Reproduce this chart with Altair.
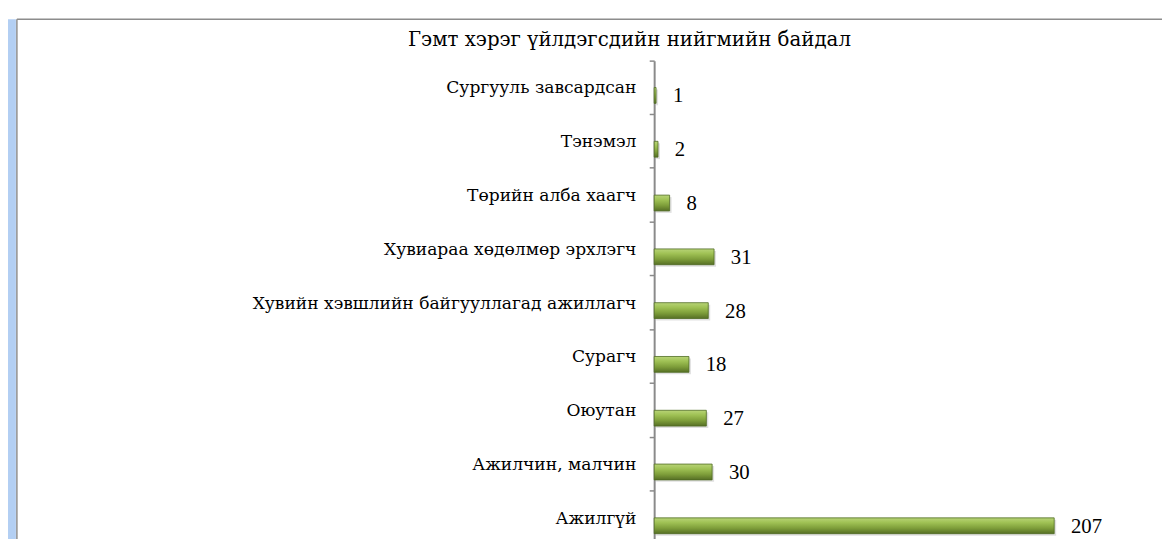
import altair as alt
import pandas as pd

title_text = "Гэмт хэрэг үйлдэгсдийн нийгмийн байдал"
categories = [
    "Сургууль завсардсан",
    "Тэнэмэл",
    "Төрийн алба хаагч",
    "Хувиараа хөдөлмөр эрхлэгч\u00a0",
    "Хувийн хэвшлийн байгууллагад ажиллагч",
    "Сурагч",
    "Оюутан",
    "Ажилчин, малчин",
    "Ажилгүй",
]
values = [1, 2, 8, 31, 28, 18, 27, 30, 207]

df = pd.DataFrame({"cat": categories, "val": values})

W = 489
H = 490
FONT = "DejaVu Serif"
NUMFONT = "Liberation Serif"

x_enc = alt.X("val:Q", scale=alt.Scale(domain=[0, 250], nice=False, zero=True), axis=None)
y_enc = alt.Y(
    "cat:N",
    sort=categories,
    scale=alt.Scale(paddingInner=0, paddingOuter=0),
    axis=alt.Axis(
        labels=False, title=None, bandPosition=0, ticks=True, tickSize=5,
        tickColor="#8a8a8a", tickWidth=1.5, domainColor="#8a8a8a", domainWidth=2, grid=False,
    ),
)

base = alt.Chart(df)

shadow = base.mark_bar(size=16, yOffset=10, xOffset=2, color="#000000", opacity=0.12).encode(
    x=x_enc, y=y_enc
)

bars = base.mark_bar(
    size=16,
    yOffset=8,
    stroke="#4f6a22",
    strokeWidth=0.8,
    color=alt.Gradient(
        gradient="linear",
        x1=0, x2=0, y1=0, y2=1,
        stops=[
            alt.GradientStop(offset=0, color="#b8d477"),
            alt.GradientStop(offset=0.3, color="#9fc154"),
            alt.GradientStop(offset=0.65, color="#7e9e3a"),
            alt.GradientStop(offset=1, color="#566f25"),
        ],
    ),
).encode(x=x_enc, y=y_enc)

value_labels = base.mark_text(
    align="left", baseline="middle", dx=17, yOffset=9, font=NUMFONT, fontSize=21, color="#000000"
).encode(x=x_enc, y=y_enc, text="val:Q")

cat_labels = base.mark_text(
    align="right", baseline="middle", yOffset=1, font=FONT, fontSize=17.3, color="#000000"
).encode(x=alt.value(-18), y=y_enc, text="cat:N")

title = alt.Chart(pd.DataFrame({"t": [title_text]})).mark_text(
    align="center", baseline="alphabetic", font=FONT, fontSize=20, color="#000000"
).encode(x=alt.value(-25), y=alt.value(-15), text="t:N")

deco = pd.DataFrame({"a": [0]})
top_line = alt.Chart(deco).mark_rule(color="#8c8c8c", strokeWidth=1.5).encode(
    x=alt.value(-645), x2=alt.value(W + 30), y=alt.value(-42)
)
left_line = alt.Chart(deco).mark_rule(color="#8c8c8c", strokeWidth=1.5).encode(
    x=alt.value(-645), y=alt.value(-42), y2=alt.value(H + 10)
)
blue_strip = alt.Chart(deco).mark_rule(color="#b3cff3", strokeWidth=8).encode(
    x=alt.value(-650), y=alt.value(-42), y2=alt.value(H + 10)
)

chart = (
    alt.layer(blue_strip, left_line, top_line, title, shadow, bars, value_labels, cat_labels)
    .properties(
        width=W,
        height=H,
        autosize=alt.AutoSizeParams(type="none"),
        padding={"left": 654, "top": 50, "right": 25, "bottom": 0},
        background="white",
    )
    .configure_view(stroke=None)
)

chart.save("out.html", embed_options={"renderer": "svg", "actions": False})
